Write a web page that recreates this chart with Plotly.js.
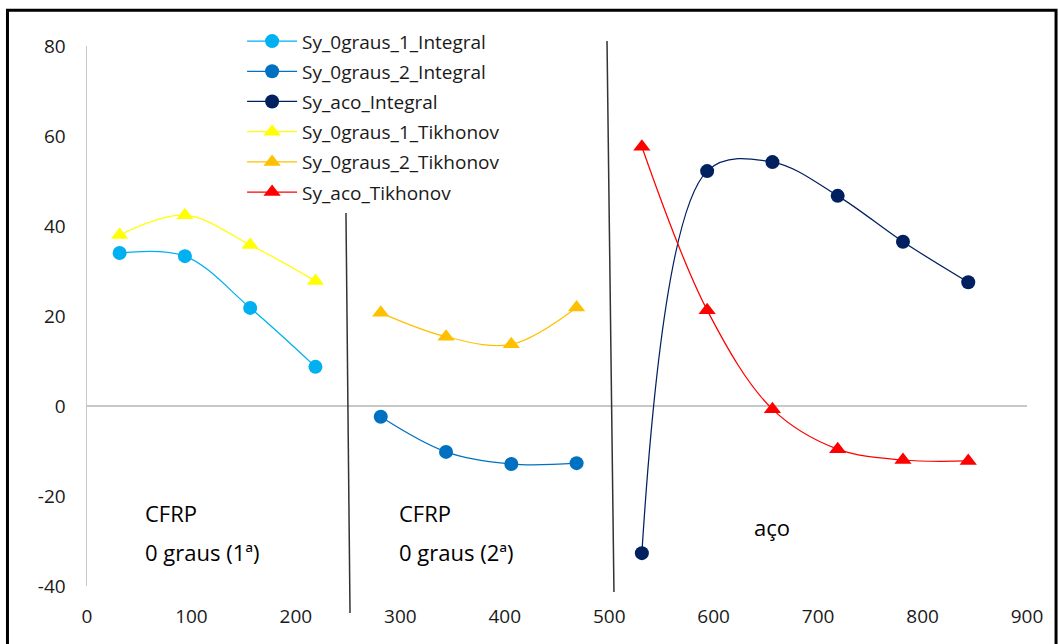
<!DOCTYPE html>
<html>
<head>
<meta charset="utf-8">
<script src="https://cdn.plot.ly/plotly-3.0.1.min.js"></script>
<style>html,body{margin:0;padding:0;background:#fff;}#chart{width:1059px;height:644px;}</style>
</head>
<body>
<div id="chart"></div>
<script>
// Data
const xCFRP1 = [31.25, 93.75, 156.25, 218.75];
const xCFRP2 = [281.25, 343.75, 406.25, 468.75];
const xAco = [531.25, 593.75, 656.25, 718.75, 781.25, 843.75];

const sy0graus1Integral = [34.0, 33.3, 21.8, 8.7];
const sy0graus2Integral = [-2.4, -10.2, -12.9, -12.7];
const syAcoIntegral = [-32.7, 52.2, 54.2, 46.7, 36.5, 27.5];
const sy0graus1Tikhonov = [38.0, 42.4, 35.8, 27.8];
const sy0graus2Tikhonov = [20.7, 15.4, 13.7, 21.9];
const syAcoTikhonov = [57.6, 21.3, -0.7, -9.6, -12.0, -12.2];

const seriesNames = ["Sy_0graus_1_Integral", "Sy_0graus_2_Integral", "Sy_aco_Integral",
                     "Sy_0graus_1_Tikhonov", "Sy_0graus_2_Tikhonov", "Sy_aco_Tikhonov"];
const xTicks = [0, 100, 200, 300, 400, 500, 600, 700, 800, 900];
const yTicks = [-40, -20, 0, 20, 40, 60, 80];

const FONT = "Open Sans, Noto Sans, sans-serif";
const TXT = "#1a1a1a";

function tr(name, x, y, color, symbol, size) {
  return {
    type: "scatter", mode: "lines+markers", name: name, x: x, y: y,
    legendgroup: name,
    line: {color: color, width: 1.25, shape: "spline", smoothing: 1},
    marker: {color: color, size: size, symbol: symbol}
  };
}

const data = [
  tr(seriesNames[0], xCFRP1, sy0graus1Integral, "#00B0F0", "circle", 14),
  tr(seriesNames[1], xCFRP2, sy0graus2Integral, "#0070C0", "circle", 14),
  tr(seriesNames[2], xAco, syAcoIntegral, "#002060", "circle", 14),
  tr(seriesNames[3], xCFRP1, sy0graus1Tikhonov, "#FFFF00", "triangle-up", 15),
  tr(seriesNames[4], xCFRP2, sy0graus2Tikhonov, "#FFC000", "triangle-up", 15),
  tr(seriesNames[5], xAco, syAcoTikhonov, "#FF0000", "triangle-up", 15)
];

const layout = {
  width: 1059, height: 644,
  margin: {l: 87, r: 32, t: 46, b: 58},
  paper_bgcolor: "#fff", plot_bgcolor: "#fff",
  font: {family: FONT, size: 19, color: TXT},
  showlegend: true,
  legend: {
    x: 0.165, y: 1.044, xanchor: "left", yanchor: "top",
    bgcolor: "rgba(0,0,0,0)", font: {family: FONT, size: 19, color: TXT},
    tracegroupgap: 2.5, itemwidth: 50, traceorder: "grouped"
  },
  xaxis: {
    range: [0, 900], tickvals: xTicks, ticktext: xTicks.map(String),
    showgrid: false, zeroline: false, showline: false, ticks: "",
    ticklabelstandoff: 17,
    tickfont: {family: FONT, size: 19, color: TXT}
  },
  yaxis: {
    range: [-40, 80], tickvals: yTicks, ticktext: yTicks.map(String),
    showgrid: false, zeroline: true, zerolinecolor: "#c8c8c8", zerolinewidth: 1.5,
    showline: true, linecolor: "#c8c8c8", linewidth: 1.5, ticks: "",
    ticklabelstandoff: 16,
    tickfont: {family: FONT, size: 19, color: TXT}
  },
  shapes: [
    {type: "line", xref: "paper", yref: "paper", x0: 0.2755, y0: 0.6907, x1: 0.2798, y1: -0.05,
     line: {color: "#333", width: 1.5}},
    {type: "line", xref: "paper", yref: "paper", x0: 0.5532, y0: 1.0093, x1: 0.5606, y1: -0.0111,
     line: {color: "#333", width: 1.5}},
    {type: "rect", xref: "paper", yref: "paper", x0: -0.0846, y0: 1.066, x1: 1.0309, y1: -0.13,
     line: {color: "#000", width: 3}}
  ],
  annotations: [
    {xref: "paper", yref: "paper", x: 0.0596, y: 0.135, xanchor: "left", yanchor: "middle",
     text: "CFRP", showarrow: false, font: {family: FONT, size: 22, color: "#000"}},
    {xref: "paper", yref: "paper", x: 0.0596, y: 0.063, xanchor: "left", yanchor: "middle",
     text: "0 graus (1ª)", showarrow: false, font: {family: FONT, size: 22, color: "#000"}},
    {xref: "paper", yref: "paper", x: 0.3298, y: 0.135, xanchor: "left", yanchor: "middle",
     text: "CFRP", showarrow: false, font: {family: FONT, size: 22, color: "#000"}},
    {xref: "paper", yref: "paper", x: 0.3298, y: 0.063, xanchor: "left", yanchor: "middle",
     text: "0 graus (2ª)", showarrow: false, font: {family: FONT, size: 22, color: "#000"}},
    {xref: "paper", yref: "paper", x: 0.7074, y: 0.109, xanchor: "left", yanchor: "middle",
     text: "aço", showarrow: false, font: {family: FONT, size: 22, color: "#000"}}
  ]
};

Plotly.newPlot("chart", data, layout, {displayModeBar: false, staticPlot: true});
</script>
</body>
</html>
